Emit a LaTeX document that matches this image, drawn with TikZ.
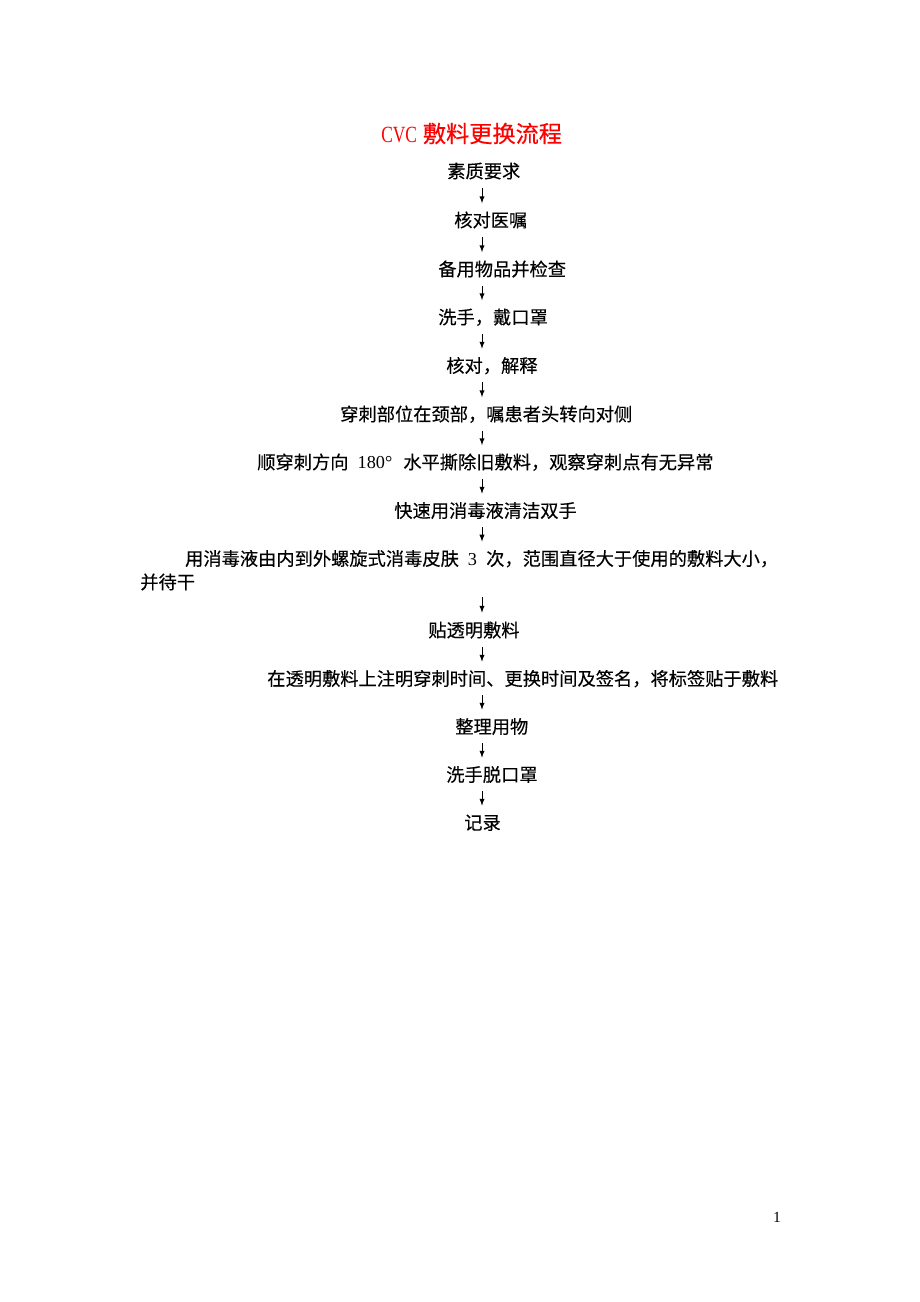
\documentclass[tikz,border=0pt]{standalone}
\usepackage{fontspec}
\setmainfont{Liberation Serif}
\newfontfamily\cjk[FakeBold=0.3]{Noto Sans CJK SC}
\newfontfamily\narrowserif[FakeStretch=0.75]{Liberation Serif}
\usepackage{tikz}

\begin{document}
\begin{tikzpicture}[x=0.6467pt, y=-0.6467pt,
    flowtext/.style={anchor=west, inner sep=0pt, font=\cjk\fontsize{11.8}{15.2}\selectfont,
      text height=10.4pt, text depth=1.4pt},
    flowarrow/.style={-latex, line width=0.55pt, shorten <=4.8pt, shorten >=4.8pt}]
      \useasboundingbox (0, 0) rectangle (920, 1302);
      \coordinate (axis) at (482, 0);

      \node (title) [anchor=west, inner sep=0pt, text=red, font=\cjk\fontsize{15}{18}\selectfont,
        text height=13.2pt, text depth=1.8pt] at (381, 133.5) {{\narrowserif CVC}\hspace{0.25em}敷料更换流程};

      \node (n1) [flowtext] at (447, 171) {素质要求};
      \node (n2) [flowtext] at (454, 220) {核对医嘱};
      \node (n3) [flowtext] at (438, 269) {备用物品并检查};
      \node (n4) [flowtext] at (438, 317) {洗手，戴口罩};
      \node (n5) [flowtext] at (446, 365.5) {核对，解释};
      \node (n6) [flowtext] at (340, 414) {穿刺部位在颈部，嘱患者头转向对侧};
      \node (n7) [flowtext] at (257, 462) {顺穿刺方向\hspace{0.5em}{\rmfamily 180}\makebox[1em][l]{\rmfamily °}水平撕除旧敷料，观察穿刺点有无异常};
      \node (n8) [flowtext] at (394, 510.5) {快速用消毒液清洁双手};
      \node (n9) [flowtext, text height=, text depth=, align=left] at (140, 570.2)
        {\rule{0pt}{10.4pt}\hspace*{29pt}用消毒液由内到外螺旋式消毒皮肤\hspace{0.5em}{\rmfamily 3}\hspace{0.5em}次，范围直径大于使用的敷料大小，\\
         \rule[-1.4pt]{0pt}{1.4pt}并待干};
      \node (n10) [flowtext] at (428, 630) {贴透明敷料};
      \node (n11) [flowtext] at (267, 678.5) {在透明敷料上注明穿刺时间、更换时间及签名，将标签贴于敷料};
      \node (n12) [flowtext] at (455, 726.5) {整理用物};
      \node (n13) [flowtext] at (446, 774.5) {洗手脱口罩};
      \node (n14) [flowtext] at (464, 822.5) {记录};

      \node (page) [inner sep=0pt, font=\fontsize{10}{12}\selectfont] at (777, 1217) {1};

      \draw[flowarrow] (n1.south -| axis) -- (n2.north -| axis);
      \draw[flowarrow] (n2.south -| axis) -- (n3.north -| axis);
      \draw[flowarrow] (n3.south -| axis) -- (n4.north -| axis);
      \draw[flowarrow] (n4.south -| axis) -- (n5.north -| axis);
      \draw[flowarrow] (n5.south -| axis) -- (n6.north -| axis);
      \draw[flowarrow] (n6.south -| axis) -- (n7.north -| axis);
      \draw[flowarrow] (n7.south -| axis) -- (n8.north -| axis);
      \draw[flowarrow] (n8.south -| axis) -- (n9.north -| axis);
      \draw[flowarrow, shorten <=3.8pt, shorten >=5.1pt] (n9.south -| axis) -- (n10.north -| axis);
      \draw[flowarrow] (n10.south -| axis) -- (n11.north -| axis);
      \draw[flowarrow] (n11.south -| axis) -- (n12.north -| axis);
      \draw[flowarrow] (n12.south -| axis) -- (n13.north -| axis);
      \draw[flowarrow] (n13.south -| axis) -- (n14.north -| axis);
    \end{tikzpicture}
\end{document}
